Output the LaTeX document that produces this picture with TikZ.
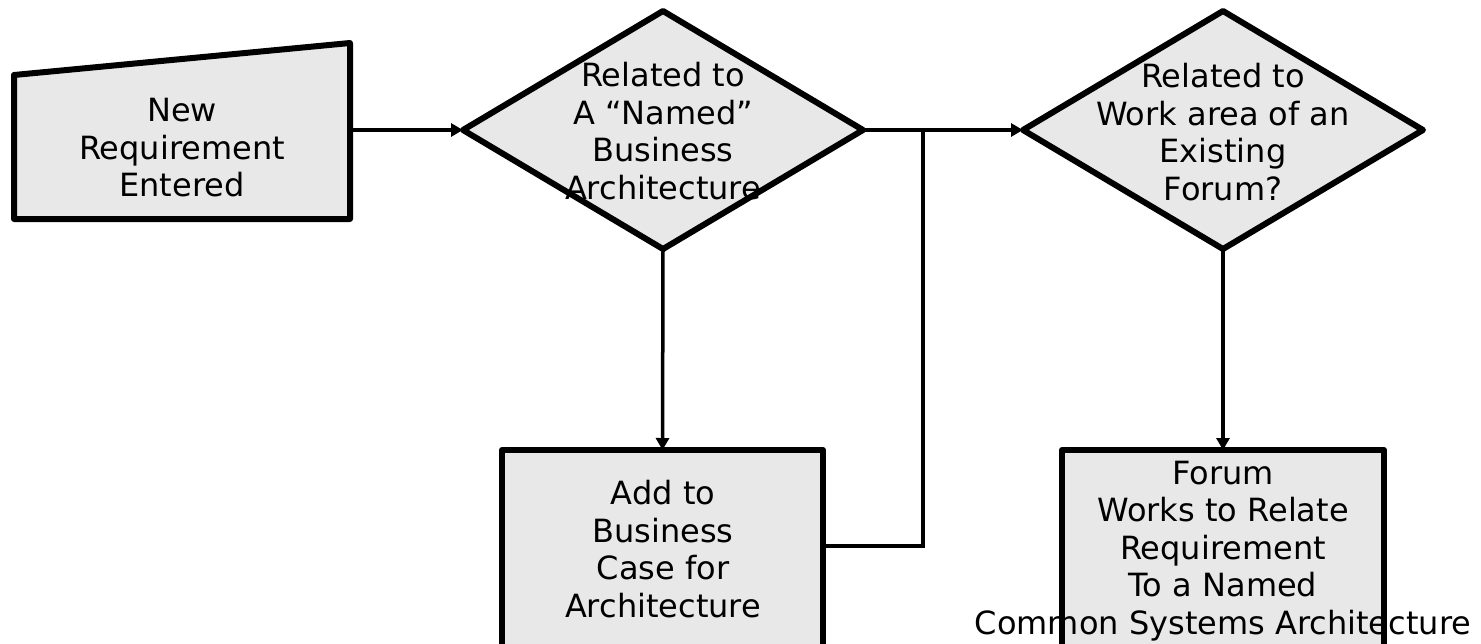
\documentclass[tikz,border=0pt]{standalone}
\usepackage{fontspec}
\setmainfont{DejaVu Sans}
\usetikzlibrary{arrows.meta,shapes.geometric}
\definecolor{boxfill}{RGB}{232,232,232}
\begin{document}
\begin{tikzpicture}[x=1pt,y=-1pt,
  shapeline/.style={draw=black,line width=6pt,fill=boxfill,line join=round,inner sep=0pt,outer sep=0pt},
  procbox/.style={shapeline,rectangle,minimum width=321pt,minimum height=250pt},
  decision/.style={shapeline,diamond,minimum width=400pt,minimum height=238pt},
  lbl/.style={align=center,font=\fontsize{32}{37.5}\selectfont,inner sep=0pt},
  conn/.style={draw=black,line width=3.5pt},
  arr/.style={conn,-{Triangle[length=12pt,width=13pt]}}
]
\useasboundingbox (0,0) rectangle (1481,643);
\clip (0,0) rectangle (1481,643);

% start (manual input trapezoid)
\node[inner sep=0pt,outer sep=0pt,minimum width=336pt,minimum height=144pt] (start) at (182,147) {};
\draw[shapeline] (start.south west) -- (start.north west) -- ([yshift=32pt]start.north east) -- (start.south east) -- cycle;
\node[lbl] (startt) at (182,148) {New\\Requirement\\Entered};

% decisions
\node[decision] (d1) at (663,130) {};
\node[lbl] (d1t) at (663,131) {Related to\\A “Named”\\Business\\Architecture};
\node[decision] (d2) at (1223,130) {};
\node[lbl] (d2t) at (1223,132) {Related to\\Work area of an\\Existing\\Forum?};

% process boxes
\node[procbox] (b2) at (662.5,575) {};
\node[lbl] (b2t) at (663,549) {Add to\\Business\\Case for\\Architecture};
\node[procbox,minimum width=322pt] (b3) at (1223,575) {};
\node[lbl] (b3t) at (1223,551) {Forum\\Works to Relate\\Requirement\\To a Named\\Common Systems Architecture};

% connectors
\coordinate (j) at (923,130);
\draw[arr] (start.east |- d1.west) -- (d1.west);
\draw[arr] (d1.east) -- (d2.west);
\draw[arr] (d1.south) -- (b2.north);
\draw[arr] (d2.south) -- (b3.north);
\draw[conn] ([yshift=29pt]b2.east) -| (j);
\end{tikzpicture}
\end{document}
